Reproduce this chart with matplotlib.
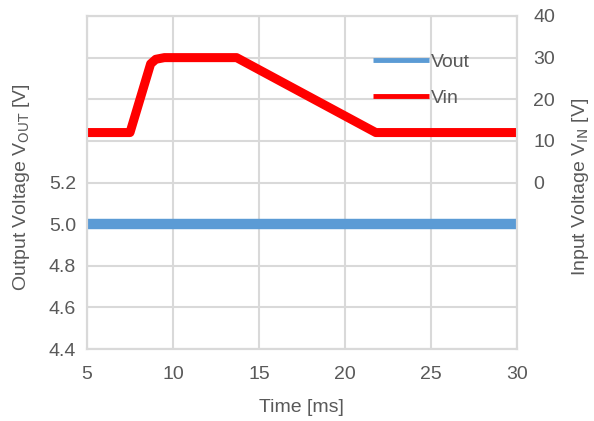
import matplotlib
matplotlib.use("Agg")
import matplotlib.pyplot as plt

# data
vout_time = [5, 30]
vout = [5.0, 5.0]

vin_time = [5, 7.5, 8.7, 9.0, 9.5, 13.7, 21.8, 30]
vin = [12, 12, 28.5, 29.6, 30, 30, 12, 12]

x_ticks = [5, 10, 15, 20, 25, 30]
left_ticks = [4.4, 4.6, 4.8, 5.0, 5.2]
right_ticks = [0, 10, 20, 30, 40]

plt.rcParams['font.family'] = ['Liberation Sans', 'DejaVu Sans']
fs = 14
gray = '#595959'
grid_c = '#d9d9d9'

fig = plt.figure(figsize=(5.94, 4.21), dpi=100)
ax = fig.add_axes([0.1465, 0.171, 0.7235, 0.791])
ax2 = ax.twinx()

l1, = ax.plot(vout_time, vout, color='#5b9bd5', lw=7.5, solid_capstyle='butt', label='Vout')
l2, = ax2.plot(vin_time, vin, color='#ff0000', lw=6.5, solid_joinstyle='round',
               solid_capstyle='butt', label='Vin')

grid_y = [4.4, 4.6, 4.8, 5.0, 5.2, 5.4, 5.6, 5.8, 6.0]
ax.set_xlim(5, 30)
ax.set_ylim(4.4, 6.0)
ax2.set_ylim(-40, 40)
ax.set_xticks(x_ticks)
ax.set_yticks(grid_y)
ax.set_yticklabels(['%.1f' % v if v in left_ticks else '' for v in grid_y])
ax2.set_yticks(right_ticks)

ax.grid(True, color=grid_c, lw=1.5)
ax.set_axisbelow(True)
for a in (ax, ax2):
    a.tick_params(length=0, colors=gray, labelsize=fs)
    for s in a.spines.values():
        s.set_color(grid_c)
        s.set_linewidth(1.5)
ax.tick_params(axis='y', pad=8)
ax.tick_params(axis='x', pad=12)
ax2.tick_params(axis='y', pad=12)

ax.set_xlabel('Time [ms]', color=gray, fontsize=fs, labelpad=12)
ax.set_ylabel('Output Voltage V$_{\\mathrm{OUT}}$ [V]', color=gray, fontsize=fs)
ax.yaxis.set_label_coords(-0.127, 0.486)
ax2.set_ylabel('Input Voltage V$_{\\mathrm{IN}}$ [V]', color=gray, fontsize=fs)
ax2.yaxis.set_label_coords(1.123, 0.486)

leg = ax2.legend([l1, l2], ['Vout', 'Vin'], loc='upper left', bbox_to_anchor=(0.624, 0.94),
                 frameon=False, handlelength=2.9, handletextpad=0.1, labelspacing=0.95,
                 fontsize=fs)
for h in leg.get_lines():
    h.set_linewidth(3.5)
for t in leg.get_texts():
    t.set_color(gray)

fig.savefig('out.png', dpi=100)
